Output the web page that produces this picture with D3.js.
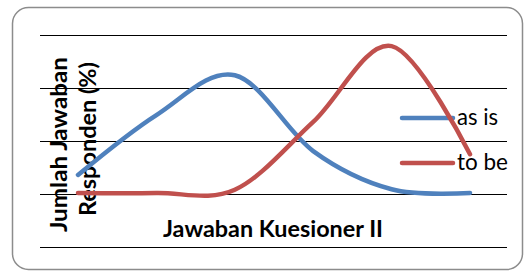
<!DOCTYPE html>
<html lang="id">
<head>
  <meta charset="UTF-8">
  <title>Jawaban Kuesioner II</title>
  <script src="https://d3js.org/d3.v7.min.js"></script>
  <style>
    body { margin: 0; background: #fff; }
    svg { display: block; }
  </style>
</head>
<body>
  <svg width="525" height="273"></svg>
  <script>
    // data (gridlines at 0,10,20,30,40)
    const categories = ["1", "2", "3", "4", "5", "6"];
    const asIs = [13.6, 24.9, 32.4, 18.1, 10.9, 10.2];
    const toBe = [10.2, 10.2, 10.8, 23.6, 37.9, 17.5];
    const yTicks = [0, 10, 20, 30, 40];

    const series = [
      { name: "as is", values: asIs, color: "#4F81BD" },
      { name: "to be", values: toBe, color: "#C0504D" }
    ];

    const svg = d3.select("svg");
    const font = "Lato, 'Open Sans', sans-serif";

    const x = d3.scalePoint().domain(categories).range([78, 470]);
    const y = d3.scaleLinear().domain([0, 40]).range([247, 35]);

    // outer frame
    svg.append("rect")
        .attr("x", 12.5).attr("y", 7.5)
        .attr("width", 510).attr("height", 262)
        .attr("rx", 16)
        .attr("fill", "#fff")
        .attr("stroke", "#8c8c8c")
        .attr("stroke-width", 1.5);

    // gridlines
    svg.append("g")
      .selectAll("line")
      .data(yTicks)
      .join("line")
        .attr("x1", 40).attr("x2", 507)
        .attr("y1", d => Math.round(y(d)) + 0.5)
        .attr("y2", d => Math.round(y(d)) + 0.5)
        .attr("stroke", "#000")
        .attr("stroke-width", 1.2);

    // axis titles
    svg.append("text")
        .attr("x", 163).attr("y", 237)
        .attr("font-family", font).attr("font-weight", "bold")
        .attr("font-size", 22)
        .attr("textLength", 220).attr("lengthAdjust", "spacingAndGlyphs")
        .attr("fill", "#000")
        .text("Jawaban Kuesioner II");

    const yTitle = [
      { text: "Jumlah Jawaban", x: 67, y: 232, len: 175 },
      { text: "Responden (%)", x: 96, y: 216, len: 154 }
    ];
    svg.append("g")
      .selectAll("text")
      .data(yTitle)
      .join("text")
        .attr("transform", d => `translate(${d.x},${d.y}) rotate(-90)`)
        .attr("font-family", font).attr("font-weight", "bold")
        .attr("font-size", 22)
        .attr("textLength", d => d.len).attr("lengthAdjust", "spacingAndGlyphs")
        .attr("fill", "#000")
        .text(d => d.text);

    // legend
    const legend = svg.append("g")
      .selectAll("g")
      .data(series)
      .join("g")
        .attr("transform", (d, i) => `translate(0,${118 + i * 45})`);

    legend.append("line")
        .attr("x1", 402).attr("x2", 453)
        .attr("stroke", d => d.color)
        .attr("stroke-width", 4.5)
        .attr("stroke-linecap", "round");

    legend.append("text")
        .attr("x", 457).attr("y", 7)
        .attr("font-family", font)
        .attr("font-size", 23)
        .attr("textLength", (d, i) => i ? 51 : 41)
        .attr("lengthAdjust", "spacingAndGlyphs")
        .attr("fill", "#000")
        .text(d => d.name);

    // smoothed lines
    const line = d3.line()
        .x((d, i) => x(categories[i]))
        .y(d => y(d))
        .curve(d3.curveCardinal.tension(0));

    svg.append("g")
        .attr("fill", "none")
        .attr("stroke-width", 4.5)
        .attr("stroke-linecap", "round")
        .attr("stroke-linejoin", "round")
      .selectAll("path")
      .data(series)
      .join("path")
        .attr("stroke", d => d.color)
        .attr("d", d => line(d.values));
  </script>
</body>
</html>
